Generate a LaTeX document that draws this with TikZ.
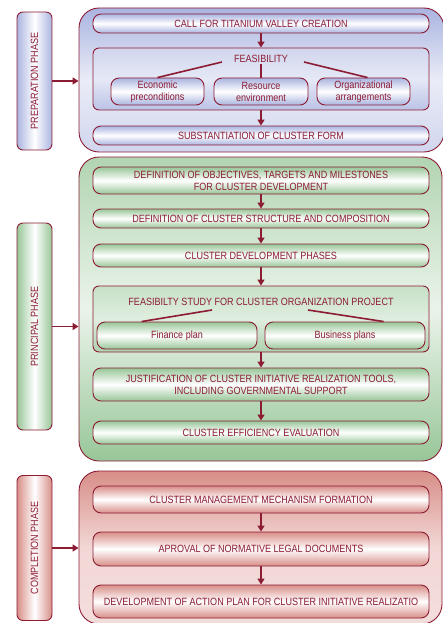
\documentclass[tikz,border=0pt]{standalone}
\usepackage{fontspec}
\setmainfont{Liberation Sans}[FakeStretch=0.86]
\usetikzlibrary{arrows.meta,positioning,calc}
\definecolor{maroon}{RGB}{140,28,52}
\definecolor{prepblue}{RGB}{170,180,224}
\definecolor{princgreen}{RGB}{152,198,152}
\definecolor{complred}{RGB}{216,142,136}
\newcommand{\flowfont}{\fontsize{10.5}{12}\selectfont}

\begin{document}
\begin{tikzpicture}[
    x=1pt, y=-1pt,
    >={Triangle[length=6pt,width=7pt]},
    outer box/.style={draw=maroon,line width=0.9pt,rounded corners=20pt,inner sep=0pt},
    phase label/.style={draw=maroon,line width=0.9pt,rounded corners=6pt,rotate=90,
      minimum height=35pt,inner sep=0pt,text=maroon,font=\flowfont,
      left color=#1,right color=#1,middle color=white},
    stage box/.style={draw=maroon,line width=0.9pt,rounded corners=8pt,inner sep=0pt,
      minimum width=336pt,text=maroon,align=center,font=\flowfont,
      top color=#1,bottom color=#1,middle color=white},
    group box/.style={draw=maroon,line width=0.9pt,rounded corners=6pt,inner sep=0pt,
      minimum width=336pt,top color=#1!55,bottom color=#1!80,middle color=#1!30},
    txt/.style={text=maroon,font=\flowfont,inner sep=1pt},
    flow/.style={->,draw=maroon,line width=1.6pt},
    link/.style={draw=maroon,line width=1.6pt}
  ]
    \useasboundingbox (0,0) rectangle (443,623);

    % Preparation phase
    \node[outer box,top color=prepblue,bottom color=prepblue!55,middle color=prepblue!25,
      minimum width=365pt,minimum height=144pt] (prep) at (261.5,80) {};
    \node[phase label=prepblue,minimum width=138pt] (preplbl) at (34.5,81) {PREPARATION PHASE};

    \node[stage box=prepblue,minimum height=19pt] (call) at (261,23.5) {CALL FOR TITANIUM VALLEY CREATION};
    \node[group box=prepblue,minimum height=62pt] (feas) at (261,79) {};
    \node[txt] (feastxt) at (261,59) {FEASIBILITY};
    \node[stage box=prepblue,minimum width=93pt,minimum height=27pt] (econ) at (157.5,91.5) {Economic\\preconditions};
    \node[stage box=prepblue,minimum width=94pt,minimum height=27pt] (res) at (261,91.5) {Resource\\environment};
    \node[stage box=prepblue,minimum width=93pt,minimum height=27pt] (org) at (363.5,91.5) {Organizational\\arrangements};
    \node[stage box=prepblue,minimum height=19pt] (subst) at (261,135.5) {SUBSTANTIATION OF CLUSTER FORM};

    \coordinate (feasL) at (222,62);
    \coordinate (feasR) at (304,62);
    \draw[link] (feasL) -- (econ.north);
    \draw[link] (feastxt.south) -- (res.north);
    \draw[link] (feasR) -- ($(org.north)+(4,0)$);
    \draw[flow] (call) -- (feas);
    \draw[flow] (feas) -- (subst);
    \draw[flow] (preplbl.south) -- (prep.west |- preplbl.south);

    % Principal phase
    \node[outer box,top color=princgreen!75,bottom color=princgreen,middle color=princgreen!20,
      minimum width=363pt,minimum height=304pt] (princ) at (260.5,309) {};
    \node[phase label=princgreen,minimum width=207pt] (princlbl) at (34.5,326.5) {PRINCIPAL PHASE};

    \node[stage box=princgreen,minimum height=27pt] (obj) at (261,180.5)
      {DEFINITION OF OBJECTIVES, TARGETS AND MILESTONES\\FOR CLUSTER DEVELOPMENT};
    \node[stage box=princgreen,minimum height=19pt] (struct) at (261,218.5)
      {DEFINITION OF CLUSTER STRUCTURE AND COMPOSITION};
    \node[stage box=princgreen,minimum height=23pt] (phases) at (261,255.5)
      {CLUSTER DEVELOPMENT PHASES};
    \node[group box=princgreen,minimum height=66pt] (study) at (261,319) {};
    \node[txt] (studytxt) at (261,302) {FEASIBILTY STUDY FOR CLUSTER ORGANIZATION PROJECT};
    \node[stage box=princgreen,minimum width=160pt,minimum height=27pt] (fin) at (177,335.5) {Finance plan};
    \node[stage box=princgreen,minimum width=160pt,minimum height=27pt] (bus) at (345,335.5) {Business plans};
    \node[stage box=princgreen,minimum height=33pt] (just) at (261,384.5)
      {JUSTIFICATION OF CLUSTER INITIATIVE REALIZATION TOOLS,\\INCLUDING GOVERNMENTAL SUPPORT};
    \node[stage box=princgreen,minimum height=23pt] (eval) at (261,432.5)
      {CLUSTER EFFICIENCY EVALUATION};

    \coordinate (studyL) at (212,310);
    \coordinate (studyR) at (308,310);
    \draw[link] (studyL) -- ($(fin.north west)!0.28!(fin.north east)$);
    \draw[link] (studyR) -- ($(bus.north west)!0.74!(bus.north east)$);
    \draw[flow] (obj) -- (struct);
    \draw[flow] (struct) -- (phases);
    \draw[flow] (phases) -- (study);
    \draw[flow] (study) -- (just);
    \draw[flow] (just) -- (eval);
    \draw[flow] (princlbl.south) -- (princ.west |- princlbl.south);

    % Completion phase
    \node[outer box,top color=complred,bottom color=complred!30,middle color=complred!35,
      minimum width=363pt,minimum height=153pt] (compl) at (260.5,547.5) {};
    \node[phase label=complred,minimum width=145pt] (compllbl) at (34.5,548) {COMPLETION PHASE};

    \node[stage box=complred,minimum height=27pt] (mech) at (261,499.5)
      {CLUSTER MANAGEMENT MECHANISM FORMATION};
    \node[stage box=complred,minimum height=34pt] (aprov) at (261,549)
      {APROVAL OF NORMATIVE LEGAL DOCUMENTS};
    \node[stage box=complred,minimum height=33pt] (action) at (261,601.5)
      {DEVELOPMENT OF ACTION PLAN FOR CLUSTER INITIATIVE REALIZATIO};

    \draw[flow] (mech) -- (aprov);
    \draw[flow] (aprov) -- (action);
    \draw[flow] (compllbl.south) -- (compl.west |- compllbl.south);

  \end{tikzpicture}
\end{document}
